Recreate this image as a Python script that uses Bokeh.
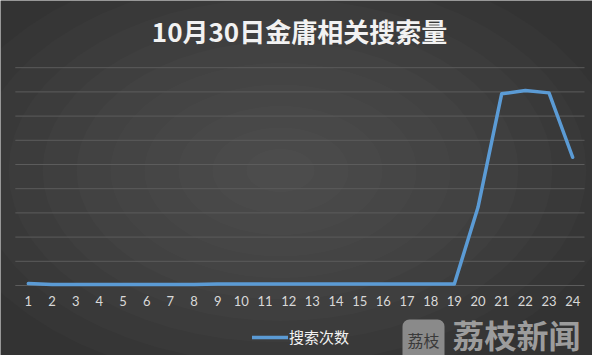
import math
from bokeh.plotting import figure
from bokeh.models import (Range1d, FixedTicker, Label, PolyAnnotation,
                          Legend, LegendItem, ColumnDataSource, LinearAxis)
from bokeh.embed import file_html
from bokeh.resources import INLINE

# ---------------- data ----------------
title_text = "10月30日金庸相关搜索量"
series_name = "搜索次数"
hours = list(range(1, 25))
searches = [80, 40, 40, 40, 40, 40, 40, 40, 60, 60, 60, 60,
            60, 60, 60, 60, 60, 60, 60, 3230, 7920, 8060, 7960, 5300]
grid_values = [0, 1000, 2000, 3000, 4000, 5000, 6000, 7000, 8000, 9000]
watermark_text = "荔枝新闻"
logo_text = "荔枝"

BG = "#333333"
FONT_CJK = "Noto Sans CJK SC"
W, H = 592, 355

# pixel -> data helpers (decorations / ranges only)
def X(px):
    return 0.5 + (px - 16) / 23.667

def Y(py):
    return (285 - py) / 24.2 * 1000

p = figure(width=W, height=H, output_backend="svg", toolbar_location=None,
           x_range=Range1d(X(0), X(W)), y_range=Range1d(Y(H), Y(0)),
           min_border=0, x_axis_location=None, y_axis_location=None,
           background_fill_color=BG, border_fill_color=BG,
           outline_line_color=None)
p.title.visible = False
p.grid.visible = False

# soft radial glow background
for k in range(10):
    f = 1 - k / 10.0
    rx, ry = 340 * f, 215 * f
    xs = [X(280 + rx * math.cos(2 * math.pi * t / 60)) for t in range(60)]
    ys = [Y(170 + ry * math.sin(2 * math.pi * t / 60)) for t in range(60)]
    p.add_layout(PolyAnnotation(xs=xs, ys=ys, fill_color="white", fill_alpha=0.016,
                                line_color=None, level="image"))

# horizontal gridlines spanning the category band
p.segment(x0=[0.45] * len(grid_values), x1=[24.5] * len(grid_values),
          y0=grid_values, y1=grid_values, line_color="#5c5c5c", line_width=1,
          level="underlay")

src = ColumnDataSource(dict(hour=hours, searches=searches))
r = p.line(x="hour", y="searches", source=src, line_color="#5b9bd5",
           line_width=3.5, line_join="round", line_cap="round")

ax = LinearAxis(ticker=FixedTicker(ticks=hours), fixed_location=Y(313))
ax.axis_line_color = None
ax.major_tick_line_color = None
ax.minor_tick_line_color = None
ax.major_label_text_color = "#d9d9d9"
ax.major_label_text_font = "Lato"
ax.major_label_text_font_size = "13px"
ax.major_label_standoff = 2
p.add_layout(ax, "above")

p.add_layout(Label(x=X(299), y=Y(30), text=title_text, text_align="center",
                   text_baseline="middle", text_font=FONT_CJK, text_font_size="26px",
                   text_font_style="bold", text_color="#f2f2f2"))

legend = Legend(items=[LegendItem(label=series_name, renderers=[r])],
                location=(252, H - 347), orientation="horizontal",
                background_fill_alpha=0, border_line_color=None,
                label_text_color="#f2f2f2", label_text_font=FONT_CJK,
                label_text_font_size="15px", glyph_width=36, glyph_height=20,
                label_height=20, label_standoff=1, padding=0, margin=0, spacing=0)
p.add_layout(legend)

p.add_layout(Label(x=X(402), y=Y(319), text=logo_text, text_align="left",
                   text_baseline="top", text_font=FONT_CJK, text_font_size="16px",
                   text_color="#3a3a3a", background_fill_color="#8a8a8a",
                   padding=dict(left=5, right=5, top=8, bottom=16), border_radius=7))
p.add_layout(Label(x=X(452), y=Y(333), text=watermark_text, text_align="left",
                   text_baseline="middle", text_font=FONT_CJK, text_font_size="32px",
                   text_font_style="bold", text_color="#9c9c9c"))

open("out.html", "w").write(file_html(p, INLINE))
